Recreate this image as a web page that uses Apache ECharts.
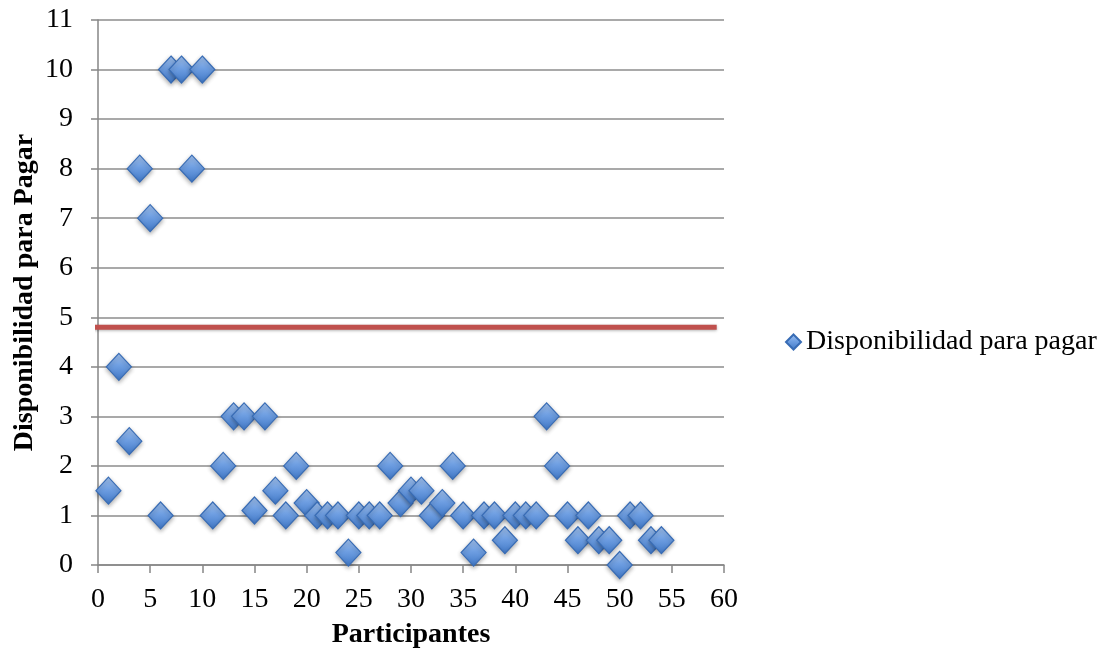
<!DOCTYPE html>
<html>
<head>
<meta charset="utf-8">
<script src="https://cdn.jsdelivr.net/npm/echarts@6/dist/echarts.min.js"></script>
<style>
html,body{margin:0;padding:0;background:#fff;}
#chart{width:1104px;height:654px;}
</style>
</head>
<body>
<div id="chart"></div>
<script>
const participants = [1,2,3,4,5,6,7,8,9,10,11,12,13,14,15,16,17,18,19,20,21,22,23,24,25,26,27,28,29,30,31,32,33,34,35,36,37,38,39,40,41,42,43,44,45,46,47,48,49,50,51,52,53,54];
const willingness = [1.5,4,2.5,8,7,1,10,10,8,10,1,2,3,3,1.1,3,1.5,1,2,1.25,1,1,1,0.25,1,1,1,2,1.25,1.5,1.5,1,1.25,2,1,0.25,1,1,0.5,1,1,1,3,2,1,0.5,1,0.5,0.5,0,1,1,0.5,0.5];
const thresholdX = [-0.5, 59.3];
const thresholdY = 4.8;
const seriesName = 'Disponibilidad para pagar';
const xTitle = 'Participantes';
const yTitle = 'Disponibilidad para Pagar';

const FONT = 'Liberation Serif';
const chart = echarts.init(document.getElementById('chart'), null, {renderer:'canvas'});
const scatterData = participants.map((p,i)=>[p, willingness[i]]);
const lineData = thresholdX.map(x=>[x, thresholdY]);

chart.setOption({
  animation:false,
  backgroundColor:'#fff',
  textStyle:{fontFamily:FONT},
  grid:{left:98, right:380, top:20, bottom:89},
  legend:{
    data:[seriesName],
    orient:'vertical',
    left:780, top:323,
    itemWidth:15, itemHeight:15, itemGap:6,
    icon:'diamond',
    textStyle:{fontFamily:FONT, fontSize:28, color:'#000'}
  },
  xAxis:{
    type:'value', min:0, max:60, interval:5,
    name:xTitle, nameLocation:'middle', nameGap:56,
    nameTextStyle:{fontFamily:FONT, fontWeight:'bold', fontSize:28, color:'#000'},
    axisLine:{show:true, lineStyle:{color:'#868686', width:1.5}},
    axisTick:{show:true, length:8, lineStyle:{color:'#868686', width:1.5}},
    axisLabel:{margin:21, fontFamily:FONT, fontSize:28, color:'#000'},
    splitLine:{show:false}
  },
  yAxis:{
    type:'value', min:0, max:11, interval:1,
    name:yTitle, nameLocation:'middle', nameGap:59, nameMoveOverlap:false,
    nameTextStyle:{fontFamily:FONT, fontWeight:'bold', fontSize:28, color:'#000'},
    axisLine:{show:true, lineStyle:{color:'#868686', width:1.5}},
    axisTick:{show:true, length:7, lineStyle:{color:'#868686', width:1.5}},
    axisLabel:{margin:25, fontFamily:FONT, fontSize:28, color:'#000'},
    splitLine:{show:true, lineStyle:{color:'#8c8c8c', width:1.5}}
  },
  series:[
    {
      type:'line',
      data:lineData,
      clip:false,
      symbol:'none',
      silent:true,
      z:3,
      lineStyle:{color:'#c0504d', width:5, shadowBlur:3, shadowColor:'rgba(0,0,0,0.3)', shadowOffsetY:1}
    },
    {
      name:seriesName,
      type:'scatter',
      data:scatterData,
      symbol:'diamond',
      symbolSize:[25,27],
      z:4,
      itemStyle:{
        opacity:1,
        color:new echarts.graphic.LinearGradient(0,0,0,1,[
          {offset:0, color:'#a6c6f2'},
          {offset:0.45, color:'#6f9fe2'},
          {offset:1, color:'#3f77c6'}
        ]),
        borderColor:'#386cb5',
        borderWidth:1.2,
        shadowBlur:4,
        shadowColor:'rgba(0,0,0,0.3)',
        shadowOffsetY:2
      }
    }
  ]
});
</script>
</body>
</html>
